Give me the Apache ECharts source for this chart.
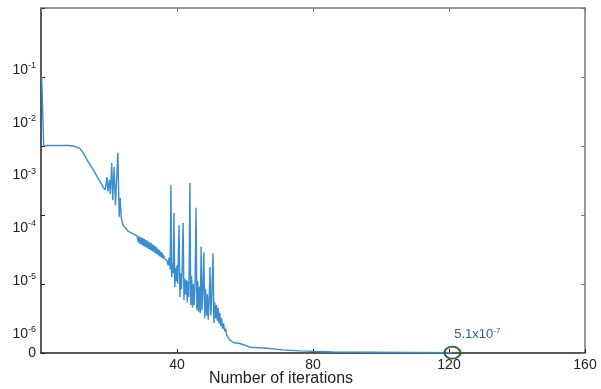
<!DOCTYPE html>
<html>
<head>
<meta charset="utf-8">
<script src="https://cdn.jsdelivr.net/npm/echarts@6/dist/echarts.min.js"></script>
<style>
  html, body { margin: 0; padding: 0; background: #fff; }
  #chart { width: 601px; height: 389px; }
</style>
</head>
<body>
<div id="chart"></div>
<script>
// iterations (x) and residual as log10 value (y)
const iterations = [
  0.2, 0.8, 2, 4, 6, 8, 9.5, 10.5, 11.5, 12.5, 13.5, 14.5, 15.5, 16.5, 17.5, 18.3, 18.9,
  19.4, 19.7, 20.1, 20.4, 20.8, 21.1, 21.5, 21.9, 22.6, 23.0, 23.3, 23.6, 24.1, 25.6, 27, 28.2,
  28.4, 28.6, 28.8, 29.0, 29.2, 29.4, 29.6, 29.8, 30.0, 30.2, 30.4, 30.6, 30.8, 31.0, 31.2, 31.4,
  31.6, 31.8, 32.0, 32.2, 32.4, 32.6, 32.8, 33.0, 33.2, 33.4, 33.6, 33.8, 34.0, 34.2, 34.4, 34.6,
  34.8, 35.0, 35.2, 35.4, 35.6, 35.8, 36.0, 36.3, 36.7, 37.1,
  37.4, 37.7, 38.0, 38.2, 38.45, 38.7, 38.9, 39.1, 39.35, 39.6, 39.8, 40.0, 40.2, 40.6, 40.85, 41.05,
  41.3, 41.5, 41.8, 42.05, 42.3, 42.55, 42.8, 43.0, 43.25, 43.5, 43.8, 44.05, 44.3, 44.55, 44.8, 45.05,
  45.3, 45.6, 45.85, 46.1, 46.35, 46.6, 46.85, 47.1, 47.35, 47.6, 47.9, 48.15, 48.4, 48.7, 48.95, 49.2,
  49.5, 49.7, 49.95, 50.2, 50.6, 50.85, 51.1, 51.35, 51.6, 51.85, 52.1, 52.35, 52.6, 52.85, 53.1, 53.4,
  53.7, 54.0, 54.3, 54.6, 55.0, 55.5, 56.5,
  58.5, 61.5, 66.5, 71, 76.2, 86, 97, 108.5, 121
];
const logResidual = [
  -1.13, -2.44, -2.43, -2.43, -2.43, -2.43, -2.44, -2.46, -2.49, -2.58, -2.70, -2.80, -2.90, -3.02, -3.13, -3.22, -3.27,
  -3.03, -3.30, -3.08, -3.35, -2.76, -3.46, -2.84, -3.56, -2.57, -3.78, -3.42, -3.80, -3.94, -4.05, -4.10, -4.14,
  -4.14, -4.26, -4.15, -4.29, -4.17, -4.30, -4.18, -4.32, -4.19, -4.33, -4.20, -4.35, -4.22, -4.36, -4.23, -4.38,
  -4.25, -4.39, -4.27, -4.41, -4.28, -4.42, -4.30, -4.44, -4.32, -4.46, -4.34, -4.47, -4.36, -4.49, -4.39, -4.51,
  -4.41, -4.53, -4.44, -4.55, -4.46, -4.57, -4.50, -4.57, -4.58, -4.62,
  -4.70, -4.55, -4.78, -3.18, -4.92, -4.65, -4.85, -3.71, -5.11, -4.75, -5.00, -4.70, -5.05, -3.94, -5.30, -4.85,
  -5.15, -4.80, -3.90, -5.36, -4.95, -5.25, -4.98, -5.40, -5.00, -5.30, -3.14, -5.45, -4.90, -5.50, -5.05, -5.45,
  -5.10, -3.61, -5.55, -5.00, -5.58, -5.10, -5.60, -4.35, -5.55, -5.20, -4.45, -5.70, -5.15, -5.65, -5.25, -5.73,
  -5.30, -4.73, -5.65, -5.35, -4.47, -5.79, -5.40, -5.70, -5.45, -5.75, -5.50, -5.80, -5.60, -5.85, -5.70, -5.90,
  -5.80, -5.95, -5.90, -6.02, -6.06, -6.11, -6.16,
  -6.18, -6.25, -6.27, -6.30, -6.32, -6.34, -6.345, -6.35, -6.355
];

// y axis labels (log10 position -> text)
const yLabelValues = [-6.36, -6, -5, -4, -3, -2, -1];
const yLabelTexts = ['0', '-6', '-5', '-4', '-3', '-2', '-1'];
const xTickLabels = [40, 80, 120, 160];
const finalIter = 121;
const finalText = '5.1x10';
const finalExp = '-7';

const chart = echarts.init(document.getElementById('chart'));
const fontFamily = '"Liberation Sans", Arial, sans-serif';
const yMin = -6.36, yMax = 0.174;

const seriesData = iterations.map((x, i) => [x, logResidual[i]]);

const option = {
  animation: false,
  grid: { left: 41, top: 8, right: 16, bottom: 36, outerBoundsMode: 'none' },
  xAxis: [
    {
      type: 'value', min: 0, max: 160, interval: 40, position: 'bottom',
      axisLine: { show: true, onZero: false, lineStyle: { color: '#222', width: 1.5 } },
      axisTick: { show: true, inside: true, length: 4, lineStyle: { color: '#222' } },
      axisLabel: {
        showMinLabel: false, margin: 5, fontSize: 14, color: '#222', fontFamily: fontFamily,
        formatter: v => (xTickLabels.indexOf(v) >= 0 ? String(v) : '')
      },
      splitLine: { show: false },
      name: 'Number of iterations', nameLocation: 'middle', nameGap: 18, nameMoveOverlap: false,
      nameTextStyle: { fontSize: 16, color: '#222', fontFamily: fontFamily, padding: [0, 64, 0, 0] }
    },
    {
      type: 'value', min: 0, max: 160, interval: 40, position: 'top',
      axisLine: { show: true, onZero: false, lineStyle: { color: '#777', width: 1.5 } },
      axisTick: { show: true, inside: true, length: 4, lineStyle: { color: '#777' } },
      axisLabel: { show: false },
      splitLine: { show: false }
    }
  ],
  yAxis: [
    {
      type: 'value', min: yMin, max: yMax, position: 'left',
      axisLine: { show: true, onZero: false, lineStyle: { color: '#222', width: 1.5 } },
      axisTick: { show: false },
      splitLine: { show: false },
      axisLabel: {
        customValues: yLabelValues,
        margin: 5,
        color: '#222',
        fontFamily: fontFamily,
        formatter: v => {
          let k = 0;
          yLabelValues.forEach((lv, i) => { if (Math.abs(lv - v) < Math.abs(yLabelValues[k] - v)) k = i; });
          if (k === 0) return '{b|' + yLabelTexts[0] + '}';
          return '{b|10}{s|' + yLabelTexts[k] + '}';
        },
        rich: {
          b: { fontSize: 14, color: '#222', fontFamily: fontFamily, lineHeight: 18 },
          s: { fontSize: 9, color: '#222', fontFamily: fontFamily, verticalAlign: 'top', lineHeight: 18, padding: [0, 0, 6, 0] }
        }
      }
    },
    {
      // plain linear axis just for the tick marks of the box
      type: 'value', min: 0, max: 5, interval: 1, position: 'left',
      axisLine: { show: false },
      axisTick: { show: true, inside: true, length: 4, lineStyle: { color: '#222' } },
      axisLabel: { show: false },
      splitLine: { show: false }
    },
    {
      type: 'value', min: 0, max: 5, interval: 1, position: 'right',
      axisLine: { show: true, onZero: false, lineStyle: { color: '#777', width: 1.5 } },
      axisTick: { show: true, inside: true, length: 4, lineStyle: { color: '#777' } },
      axisLabel: { show: false },
      splitLine: { show: false }
    }
  ],
  series: [
    {
      type: 'line',
      xAxisIndex: 0,
      yAxisIndex: 0,
      data: seriesData,
      showSymbol: false,
      lineStyle: { color: '#3a8dd0', width: 1.4 },
      markPoint: {
        silent: true,
        symbol: 'circle',
        symbolSize: [16, 12],
        itemStyle: { color: 'rgba(0,0,0,0)', borderColor: '#2d6a2d', borderWidth: 2 },
        label: {
          show: true,
          position: [11, -19],
          align: 'left',
          verticalAlign: 'top',
          formatter: '{b|' + finalText + '}{s|' + finalExp + '}',
          rich: {
            b: { fontSize: 13, color: '#2a5f9e', fontFamily: fontFamily, lineHeight: 16 },
            s: { fontSize: 8, color: '#2a5f9e', fontFamily: fontFamily, verticalAlign: 'top', lineHeight: 16, padding: [0, 0, 6, 0] }
          }
        },
        data: [{ coord: [finalIter, logResidual[logResidual.length - 1]] }]
      }
    }
  ]
};

chart.setOption(option);
</script>
</body>
</html>
